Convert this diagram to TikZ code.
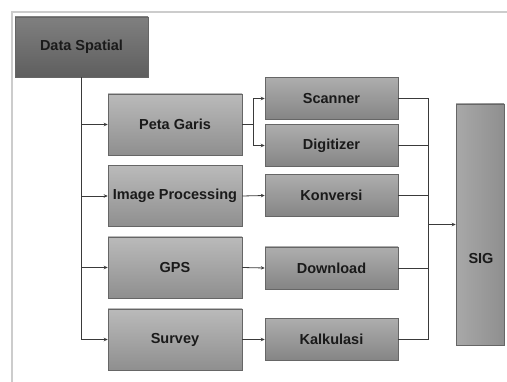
\documentclass[tikz,border=0pt]{standalone}
\usepackage{fontspec}
\setmainfont{Liberation Sans}
\usetikzlibrary{arrows.meta}
\definecolor{frameline}{HTML}{CCCCCC}
\definecolor{wire}{HTML}{3A3A3A}
\definecolor{inktext}{HTML}{1A1A1A}
\tikzset{
  labelfont/.style={font=\fontsize{14.5}{16}\selectfont\bfseries, text=inktext},
  box/.style={rectangle, draw=#1!80!black, line width=0.5pt, inner sep=0pt, labelfont},
  rootbox/.style={box=gray, minimum width=133pt, minimum height=60pt,
    top color=black!50, bottom color=black!63},
  midbox/.style={box=gray, minimum width=134pt, minimum height=61pt,
    top color=black!27, bottom color=black!44},
  leafbox/.style={box=gray, minimum width=133pt, minimum height=42pt,
    top color=black!32, bottom color=black!48},
  sinkbox/.style={box=gray, minimum width=48pt, minimum height=241pt,
    left color=black!34, right color=black!44},
  wireline/.style={draw=wire, line width=0.8pt},
  feed/.style={wireline, -{Stealth[length=4pt,width=3.5pt]}},
}
\begin{document}
\begin{tikzpicture}[x=1pt, y=-1pt]
\useasboundingbox (0,0) rectangle (507,382);
% outer frame (top and left edges)
\draw[frameline, line width=1.6pt] (12,382) -- (12,12) -- (507,12);

% nodes
\node[rootbox] (ds) at (81.5,47) {Data Spatial};
\node[midbox] (pg) at (175,124.5) {Peta Garis};
\node[midbox] (ip) at (175,196) {Image Processing};
\node[midbox] (gps) at (175,267.5) {GPS};
\node[midbox] (sv) at (175,339.5) {Survey};
\node[leafbox] (sc) at (331.5,98.5) {Scanner};
\node[leafbox] (dg) at (331.5,145.5) {Digitizer};
\node[leafbox] (kv) at (331.5,195.5) {Konversi};
\node[leafbox] (dl) at (331.5,268) {Download};
\node[leafbox] (kl) at (331.5,339.5) {Kalkulasi};
\node[sinkbox] (sig) at (480,224.5) {};
\node[labelfont] (siglabel) at (481,259) {SIG};

% trunk from Data Spatial to the second level
\draw[feed] (ds.south) |- (sv.west);
\draw[feed] (ds.south |- pg.west) -- (pg.west);
\draw[feed] (ds.south |- ip.west) -- (ip.west);
\draw[feed] (ds.south |- gps.west) -- (gps.west);

% second level to third level
\coordinate (br) at (253,124.5);
\draw[wireline] (pg.east) -- (br);
\draw[feed] (br) |- (sc.west);
\draw[feed] (br) |- (dg.west);
\draw[feed] (ip.east) -- (kv.west);
\draw[feed] (gps.east) -- (dl.west);
\draw[feed] (sv.east) -- (kl.west);

% collector into SIG
\coordinate (col) at (428,224.5);
\draw[wireline] (sc.east) -- (sc.east -| col) -- (kl.east -| col) -- (kl.east);
\draw[wireline] (dg.east) -- (dg.east -| col);
\draw[wireline] (kv.east) -- (kv.east -| col);
\draw[wireline] (dl.east) -- (dl.east -| col);
\draw[feed] (col) -- (sig.west);
\end{tikzpicture}
\end{document}
